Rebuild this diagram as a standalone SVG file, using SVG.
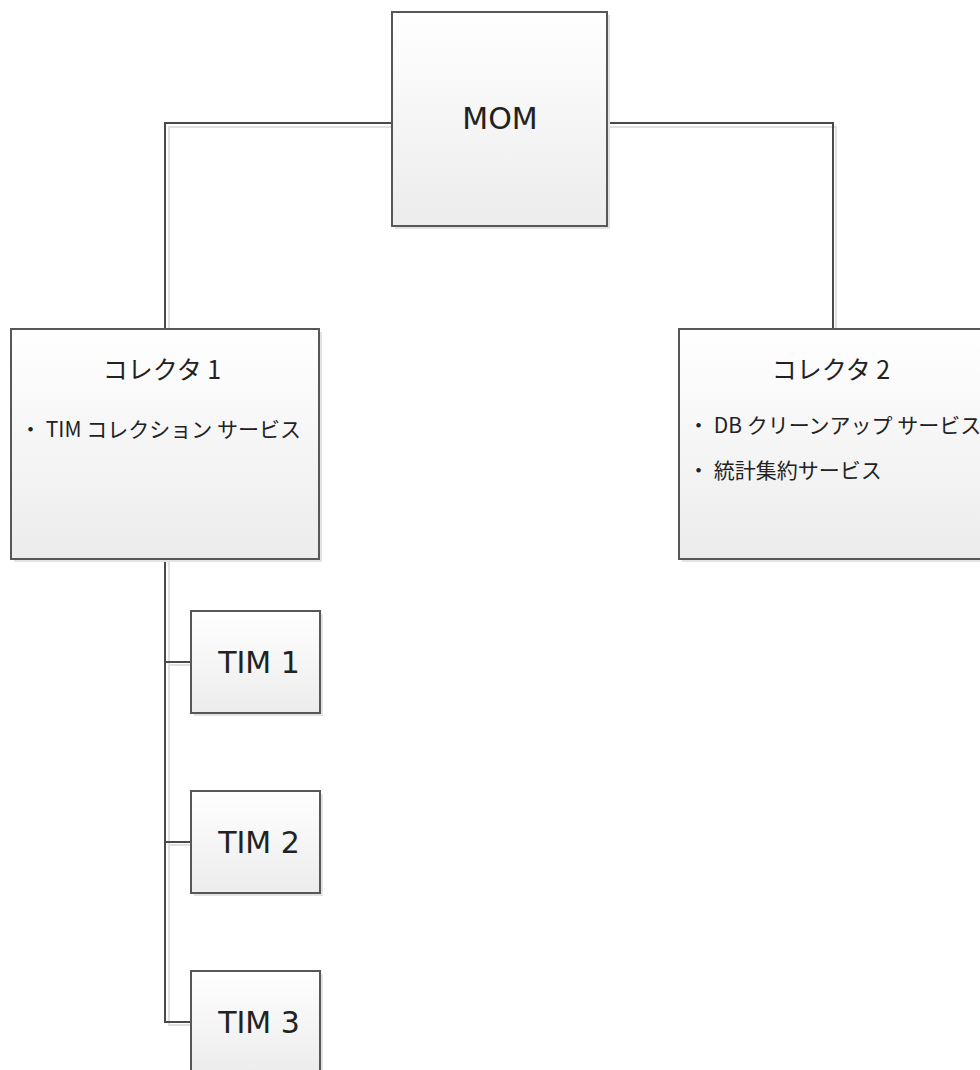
<svg xmlns="http://www.w3.org/2000/svg" width="980" height="1070" viewBox="0 0 980 1070">
<defs>
<linearGradient id="g" x1="0" y1="0" x2="0" y2="1">
<stop offset="0" stop-color="#ffffff"/>
<stop offset="1" stop-color="#ececec"/>
</linearGradient>
<style>
.sh{fill:#e3e3e3;stroke:none}
.box{fill:url(#g);stroke:#575757;stroke-width:2}
.c{fill:none;stroke:#4a4a4a;stroke-width:2}
.cs{fill:none;stroke:#e0e0e0;stroke-width:2}
.big{font-family:"DejaVu Sans","Noto Sans CJK JP",sans-serif;font-size:30px;fill:#222;text-anchor:middle}
.ttl{font-family:"Noto Sans CJK JP",sans-serif;font-size:25px;fill:#222;text-anchor:middle}
.bul{font-family:"Noto Sans CJK JP",sans-serif;font-size:21px;fill:#222}
</style>
</defs>
<rect width="980" height="1070" fill="#ffffff"/>
<g id="connectors">
<path class="cs" d="M392,127 H169 V329"/>
<path class="cs" d="M607,127 H836 V329"/>
<path class="cs" d="M169,559 V1025 H191 M169,665 H191 M169,845 H191"/>
<path class="c" d="M392,123 H165 V329"/>
<path class="c" d="M607,123 H833 V329"/>
<path class="c" d="M165,559 V1022 H191 M165,662 H191 M165,842 H191"/>
</g>
<g id="mom">
<rect class="sh" x="395" y="15" width="215" height="214"/>
<rect class="box" x="392" y="12" width="215" height="214"/>
<text class="big" x="500" y="129">MOM</text>
</g>
<g id="collector1">
<rect class="sh" x="14" y="332" width="308" height="230"/>
<rect class="box" x="11" y="329" width="308" height="230"/>
<text class="ttl" x="162" y="379">コレクタ 1</text>
<text class="bul" x="20" y="437">・ TIM コレクション サービス</text>
</g>
<g id="collector2">
<rect class="sh" x="682" y="332" width="310" height="230"/>
<rect class="box" x="679" y="329" width="310" height="230"/>
<text class="ttl" x="831" y="379">コレクタ 2</text>
<text class="bul" x="688" y="433">・ DB クリーンアップ サービス</text>
<text class="bul" x="688" y="478">・ 統計集約サービス</text>
</g>
<g id="tim1">
<rect class="sh" x="194" y="614" width="129" height="102"/>
<rect class="box" x="191" y="611" width="129" height="102"/>
<text class="big" x="259" y="673">TIM 1</text>
</g>
<g id="tim2">
<rect class="sh" x="194" y="794" width="129" height="102"/>
<rect class="box" x="191" y="791" width="129" height="102"/>
<text class="big" x="259" y="853">TIM 2</text>
</g>
<g id="tim3">
<rect class="sh" x="194" y="974" width="129" height="102"/>
<rect class="box" x="191" y="971" width="129" height="102"/>
<text class="big" x="259" y="1033">TIM 3</text>
</g>
</svg>
